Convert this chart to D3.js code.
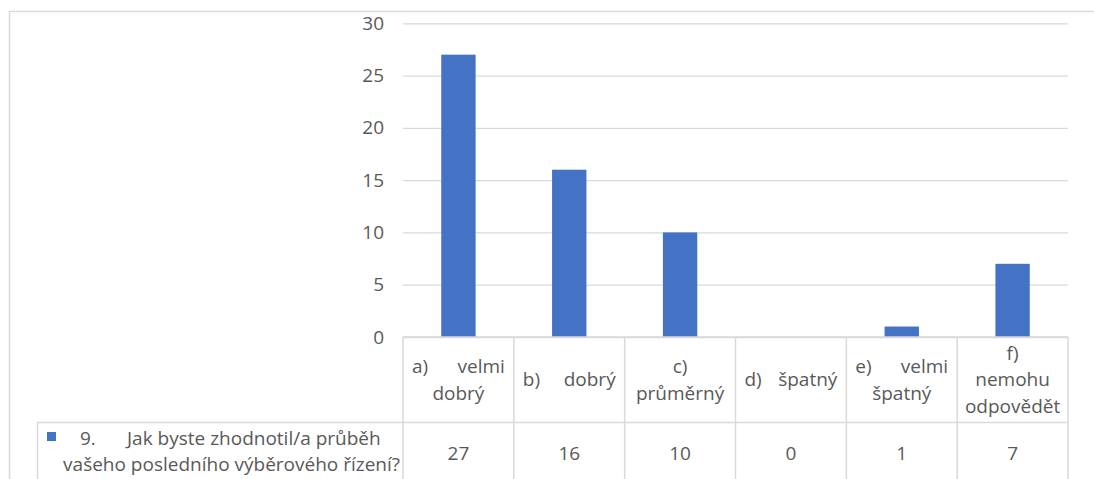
<!DOCTYPE html>
<html><head><meta charset="utf-8">
<script src="https://cdn.jsdelivr.net/npm/d3@7"></script>
<style>body{margin:0;background:#fff}svg{display:block}text{font-family:"Open Sans",sans-serif;fill:#595959}</style>
</head><body><svg id="c" width="1094" height="479"></svg>
<script>
const categories = ["a) velmi dobrý","b) dobrý","c) průměrný","d) špatný","e) velmi špatný","f) nemohu odpovědět"];
const categoryLines = [[["a)","velmi"],["dobrý"]],[["b)","dobrý"]],[["c)"],["průměrný"]],[["d)","špatný"]],[["e)","velmi"],["špatný"]],[["f)"],["nemohu"],["odpovědět"]]];
const values = [27,16,10,0,1,7];
const seriesName = ["9.", "Jak byste zhodnotil/a průběh", "vašeho posledního výběrového řízení?"];
const yTicks = [0,5,10,15,20,25,30];

const svg = d3.select("#c");
const fs = 19;
const grid = "#d9d9d9";
const x = d3.scaleBand().domain(categories).range([403,1068]).paddingInner(0).paddingOuter(0);
const y = d3.scaleLinear().domain([0,30]).range([337,23.3]);

// outer frame
svg.append("line").attr("x1",9).attr("x2",1094).attr("y1",11.5).attr("y2",11.5).attr("stroke",grid).attr("stroke-width",1.5);
svg.append("line").attr("x1",9.5).attr("x2",9.5).attr("y1",11).attr("y2",479).attr("stroke",grid).attr("stroke-width",1.5);

// gridlines + y labels
const yAxis = d3.axisLeft(y).tickValues(yTicks).tickSize(-(1068-403)).tickPadding(19);
const ga = svg.append("g").attr("transform","translate(403,0)").call(yAxis);
ga.select(".domain").remove();
ga.selectAll(".tick line").attr("stroke",grid).attr("stroke-width",1.3);
ga.selectAll(".tick text").style("font-size",fs+"px").attr("fill","#595959").style("font-family","'Open Sans',sans-serif");

// bars
const bw = x.bandwidth()*0.31;
svg.selectAll("rect.bar").data(values).join("rect").attr("class","bar")
  .attr("x",(d,i)=>x(categories[i])+x.bandwidth()/2-bw/2)
  .attr("width",bw)
  .attr("y",d=>y(d)).attr("height",d=>y(0)-y(d))
  .attr("fill","#4472c4");

// table lines
const tbl = svg.append("g").attr("stroke",grid).attr("stroke-width",1.5);
tbl.append("line").attr("x1",403).attr("x2",1068).attr("y1",y(0)).attr("y2",y(0));
tbl.append("line").attr("x1",37).attr("x2",1068).attr("y1",422.5).attr("y2",422.5);
tbl.append("line").attr("x1",37.5).attr("x2",37.5).attr("y1",422).attr("y2",479);
const bounds = categories.map(c=>x(c)).concat([x.range()[1]]);
tbl.selectAll("line.v").data(bounds).join("line").attr("class","v")
  .attr("x1",d=>d).attr("x2",d=>d).attr("y1",y(0)).attr("y2",479);

// header labels
const lh = 26.5, headTop = 337, headBot = 422;
categories.forEach((c,i)=>{
  const lines = categoryLines[i];
  const x0 = x(c), x1 = x0 + x.bandwidth(), cx = (x0+x1)/2;
  const mid = (headTop+headBot)/2;
  lines.forEach((ln,j)=>{
    const yy = mid + (j-(lines.length-1)/2)*lh + fs*0.36;
    if(ln.length===2){
      svg.append("text").attr("x",x0+9).attr("y",yy).style("font-size",fs+"px").text(ln[0]);
      svg.append("text").attr("x",x1-9).attr("y",yy).attr("text-anchor","end").style("font-size",fs+"px").text(ln[1]);
    } else {
      svg.append("text").attr("x",cx).attr("y",yy).attr("text-anchor","middle").style("font-size",fs+"px").text(ln[0]);
    }
  });
  svg.append("text").attr("x",cx).attr("y",453+fs*0.36).attr("text-anchor","middle").style("font-size",fs+"px").text(values[i]);
});

// legend
svg.append("rect").attr("x",47).attr("y",432).attr("width",9).attr("height",9).attr("fill","#4472c4");
svg.append("text").attr("x",80).attr("y",438+fs*0.36).style("font-size",fs+"px").text(seriesName[0]);
svg.append("text").attr("x",127).attr("y",438+fs*0.36).style("font-size",fs+"px").text(seriesName[1]);
svg.append("text").attr("x",400).attr("y",464+fs*0.36).attr("text-anchor","end").style("font-size",fs+"px").text(seriesName[2]);
</script></body></html>
